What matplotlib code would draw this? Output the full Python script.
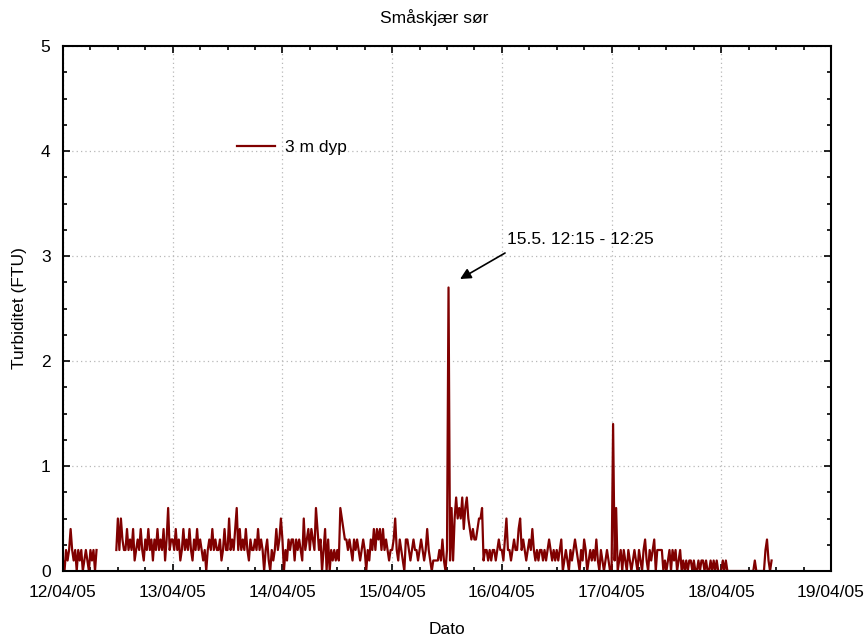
import numpy as np
import pandas as pd
import matplotlib
matplotlib.use("Agg")
import matplotlib.pyplot as plt
import matplotlib.dates as mdates
from matplotlib.ticker import MultipleLocator

plt.rcParams['font.family'] = ['Liberation Sans', 'DejaVu Sans']

# Turbidity in tenths of FTU, 20-minute samples, one list per day (None = no data)
day_12 = ([1,0,2,1,2,4,2,1,2,0,2,1,2,0,1,2,1,0,2,1,2,0,2]
          + [None]*12
          + [2,5,2,5,3,2,2,4,2,3,2,4,1,2,3,2,4,2,1,3,2,4,2,3,1,3,2,4,2,3,2,4,1,3,6,2,3])
day_13 = [3,2,4,2,3,1,2,4,2,3,2,4,2,1,3,2,4,2,3,2,1,2,0,2,3,2,4,2,3,2,2,3,1,2,4,2,
          2,5,2,3,2,4,6,2,4,2,3,2,4,2,1,3,2,2,3,2,4,2,3,2,0,2,3,1,0,2,1,2,4,2,3,5]
day_14 = [3,0,2,1,3,2,3,3,1,3,2,3,2,1,5,2,3,4,2,4,3,2,6,4,2,3,0,2,4,0,3,0,2,1,2,1,
          2,1,6,5,4,3,3,2,3,2,1,3,2,3,2,1,2,3,2,0,2,1,3,2,4,2,4,3,4,2,4,2,3,2,1,2]
day_15 = [2,3,5,2,1,3,2,1,0,3,3,2,1,2,3,2,2,1,2,3,2,1,2,4,2,1,0,1,1,1,1,2,1,3,1,0,
          2,27,1,6,1,5,7,5,6,5,7,4,6,7,5,4,3,4,3,3,4,5,5,6,1,2,2,1,2,1,2,2,1,2,3,2]
day_16 = [2,1,3,5,2,2,1,2,3,2,2,4,5,2,3,2,1,2,3,2,4,2,1,2,1,2,2,1,2,1,2,3,2,1,2,1,
          2,1,2,3,0,1,2,1,0,2,1,2,3,2,1,0,2,1,3,2,0,1,2,1,2,1,3,1,0,2,1,0,1,2,1,0]
day_17 = [0,14,1,6,0,1,2,0,2,1,0,2,1,0,1,2,1,0,2,1,0,2,3,1,0,2,1,2,3,0,2,2,2,2,0,1,
          0,1,2,0,2,1,2,0,1,2,0,1,0,1,0,1,1,0,1,0,0,1,0,1,1,0,1,0,0,1,0,1,0,1,0,0]
day_18 = [0,1,0,1,0,0,0,0,0,0,0,0,0,0,0,0,0,0,0,0,0,0,1,0,0,0,0,0,0,2,3,1,0,1]

tenths = day_12 + day_13 + day_14 + day_15 + day_16 + day_17 + day_18
values = np.array([np.nan if v is None else v / 10.0 for v in tenths])
times = pd.date_range("2005-04-12 00:00", periods=len(values), freq="20min")

series_label = "3 m dyp"
title = "Småskjær sør"
annotation = "15.5. 12:15 - 12:25"

FS = 12.5
fig = plt.figure(figsize=(8.65, 6.42), dpi=100)
ax = fig.add_axes([63/865, 1-571/642, 768/865, 525/642])

ax.plot(times, values, color="#800000", lw=1.6, label=series_label)

ax.set_xlim(pd.Timestamp("2005-04-12"), pd.Timestamp("2005-04-19"))
ax.set_ylim(0, 5)
ax.xaxis.set_major_locator(mdates.DayLocator())
ax.xaxis.set_major_formatter(mdates.DateFormatter("%d/%m/%y"))
ax.xaxis.set_minor_locator(mdates.HourLocator(byhour=[6, 12, 18]))
ax.yaxis.set_major_locator(MultipleLocator(1))
ax.yaxis.set_minor_locator(MultipleLocator(0.25))

ax.grid(True, which="major", linestyle=(0, (1, 2.5)), color="#b8b8b8", lw=0.9)
ax.tick_params(which="both", direction="in", top=True, right=True, labelsize=FS, width=1.2)
ax.tick_params(which="major", length=5)
ax.tick_params(which="minor", length=3)
ax.tick_params(axis="x", which="major", pad=10)
ax.tick_params(axis="y", which="major", pad=9)
for s in ax.spines.values():
    s.set_linewidth(1.5)

ax.set_xlabel("Dato", fontsize=FS, labelpad=16)
ax.set_ylabel("Turbiditet (FTU)", fontsize=FS, labelpad=10)
fig.text(434/865, 1-18/642, title, ha="center", va="center", fontsize=FS)

leg = ax.legend(loc="center left", bbox_to_anchor=((237-63)/768, (571-147)/525),
                frameon=False, fontsize=FS, handlelength=2.2, handletextpad=0.55,
                borderpad=0, borderaxespad=0)

t0 = pd.Timestamp("2005-04-12")
ax.text(t0 + pd.Timedelta(days=(507-63)/109.7), (571-239)/105, annotation,
        fontsize=FS, ha="left", va="center")
ax.annotate("", xy=(t0 + pd.Timedelta(days=(460-63)/109.7), (571-279)/105),
            xytext=(t0 + pd.Timedelta(days=(505-63)/109.7), (571-253)/105),
            arrowprops=dict(arrowstyle="-|>", color="black", lw=1.2,
                            mutation_scale=16, shrinkA=0, shrinkB=0))

fig.savefig("out.png", dpi=100)
